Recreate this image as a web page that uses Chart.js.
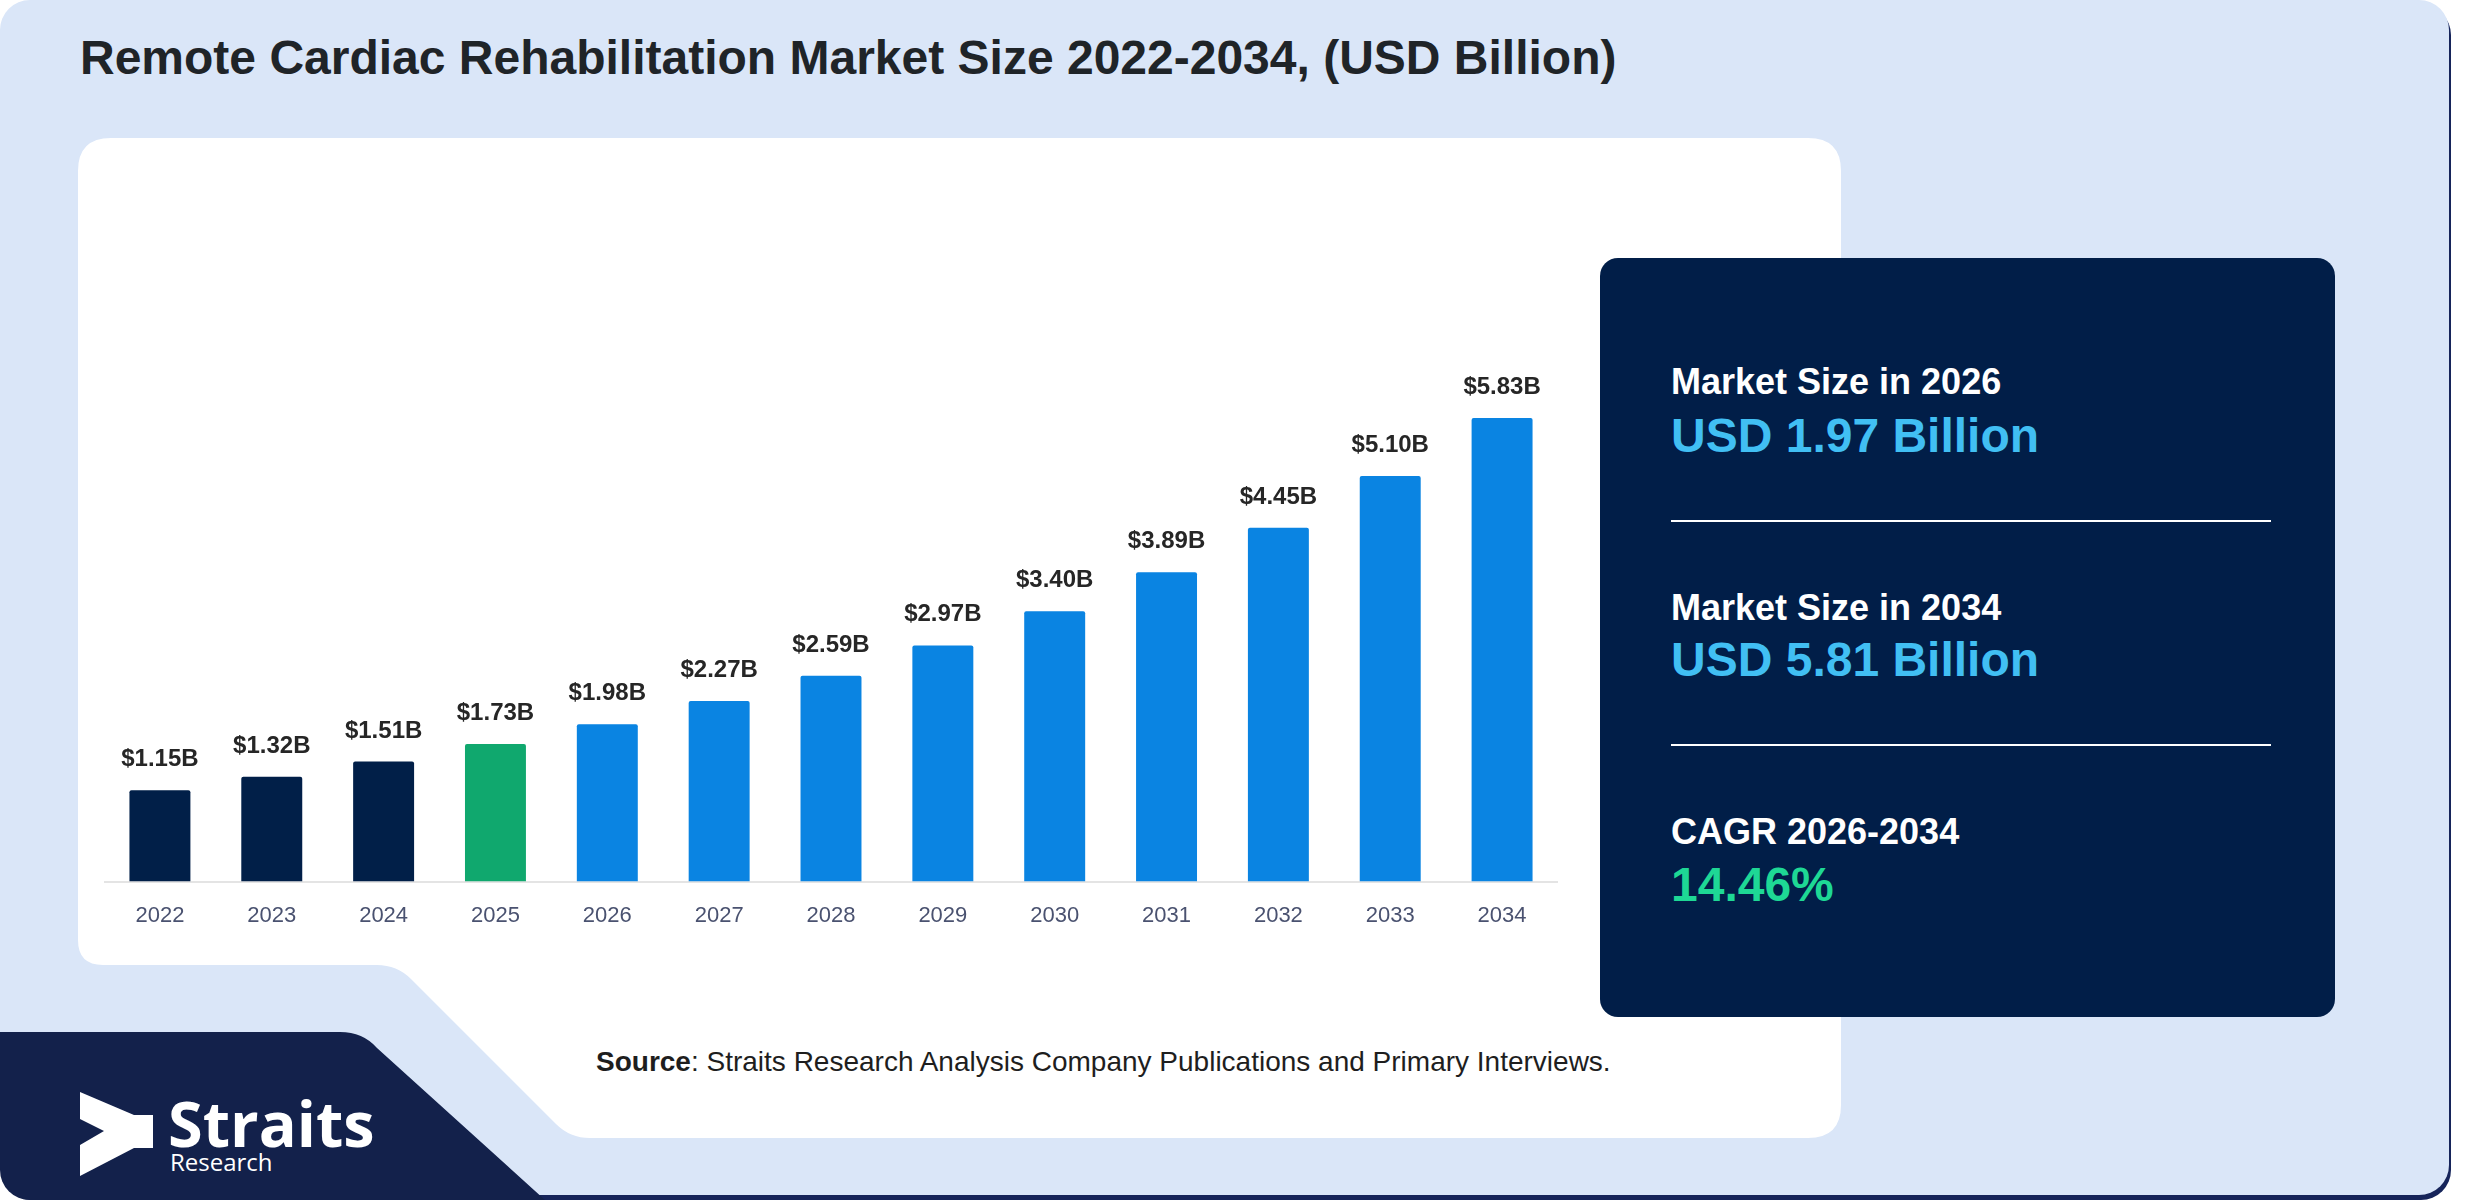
<!DOCTYPE html>
<html lang="en">
<head>
<meta charset="UTF-8">
<title>Remote Cardiac Rehabilitation Market Size 2022-2034</title>
<script src="https://cdn.jsdelivr.net/npm/chart.js"></script>
<style>
    html, body { margin: 0; padding: 0; background: #fff; }
    body { width: 2480px; height: 1200px; position: relative; overflow: hidden; font-family: "Liberation Sans", Arial, sans-serif; }
    #fundo { position: absolute; left: 0; top: 0; }
    #grafico { position: absolute; left: 104px; top: 300px; }
</style>
</head>
<body>

<svg id="fundo" width="2480" height="1200" viewBox="0 0 2480 1200">
    <defs>
        <clipPath id="moldura"><rect x="0" y="0" width="2451" height="1200" rx="30"/></clipPath>
    </defs>

    <!-- outer panel with dark bottom edge -->
    <rect x="2" y="5" width="2449" height="1195" rx="30" fill="#16245a"/>
    <rect x="0" y="0" width="2449" height="1195" rx="30" fill="#dae6f8"/>

    <!-- white card with the cut at bottom-left -->
    <path d="M 111 138 H 1808 Q 1841 138 1841 171 V 1105 Q 1841 1138 1808 1138 H 590
             Q 570 1138 556 1124 L 411 979 Q 397 965 377 965 H 103 Q 78 965 78 940 V 171 Q 78 138 111 138 Z"
          fill="#ffffff"/>

    <!-- logo block -->
    <g clip-path="url(#moldura)">
        <path d="M 0 1032 H 340 Q 363 1032 377 1048 L 545 1200 H 0 Z" fill="#13214b"/>
    </g>
    <polygon points="80,1092 134,1115 153,1115 153,1148 134,1148 80,1176 80,1145 104,1131 80,1119" fill="#ffffff"/>
    <text x="168" y="1147" font-family="'Open Sans', sans-serif" font-weight="700" font-size="63" fill="#ffffff">Straits</text>
    <text x="170" y="1171" font-family="'Open Sans', sans-serif" font-size="24" fill="#ffffff">Research</text>

    <!-- title -->
    <text x="80" y="74" font-size="48" font-weight="700" fill="#1f2428">Remote Cardiac Rehabilitation Market Size 2022-2034, (USD Billion)</text>

    <!-- stats panel -->
    <rect x="1600" y="258" width="735" height="759" rx="18" fill="#011e48"/>
    <text x="1671" y="394" font-size="36" font-weight="700" fill="#ffffff">Market Size in 2026</text>
    <text x="1671" y="452" font-size="48" font-weight="700" fill="#41bff3">USD 1.97 Billion</text>
    <line x1="1671" y1="521" x2="2271" y2="521" stroke="#ffffff" stroke-width="2"/>
    <text x="1671" y="620" font-size="36" font-weight="700" fill="#ffffff">Market Size in 2034</text>
    <text x="1671" y="676" font-size="48" font-weight="700" fill="#41bff3">USD 5.81 Billion</text>
    <line x1="1671" y1="745" x2="2271" y2="745" stroke="#ffffff" stroke-width="2"/>
    <text x="1671" y="844" font-size="36" font-weight="700" fill="#ffffff">CAGR 2026-2034</text>
    <text x="1671" y="901" font-size="48" font-weight="700" fill="#1ed895">14.46%</text>

    <!-- source -->
    <text x="596" y="1071" font-size="28" fill="#1e1e1e"><tspan font-weight="700">Source</tspan>: Straits Research Analysis Company Publications and Primary Interviews.</text>
</svg>

<canvas id="grafico" width="1454" height="660" style="width:1454px;height:660px"></canvas>

<script>
    // dados
    const anos = ['2022', '2023', '2024', '2025', '2026', '2027', '2028', '2029', '2030', '2031', '2032', '2033', '2034'];
    const valores = [1.15, 1.32, 1.51, 1.73, 1.98, 2.27, 2.59, 2.97, 3.40, 3.89, 4.45, 5.10, 5.83];

    // cores: histórico, ano base, previsão
    const corHistorico = '#011f48';
    const corBase = '#10a86e';
    const corPrevisao = '#0a84e2';
    const cores = anos.map(a => Number(a) < 2025 ? corHistorico : (a === '2025' ? corBase : corPrevisao));

    const fonte = '"Liberation Sans", Arial, sans-serif';

    const rotulosValor = {
        id: 'rotulosValor',
        afterDatasetsDraw(chart) {
            const ctx = chart.ctx;
            const meta = chart.getDatasetMeta(0);
            ctx.save();
            ctx.font = 'bold 24px ' + fonte;
            ctx.fillStyle = '#262626';
            ctx.textAlign = 'center';
            ctx.textBaseline = 'alphabetic';
            meta.data.forEach((barra, i) => {
                ctx.fillText('$' + valores[i].toFixed(2) + 'B', barra.x, barra.y - 24);
            });
            ctx.restore();
        }
    };

    const ctx = document.getElementById('grafico').getContext('2d');
    new Chart(ctx, {
        type: 'bar',
        data: {
            labels: anos,
            datasets: [{
                data: valores,
                backgroundColor: cores,
                borderWidth: 0,
                borderRadius: 2,
                borderSkipped: 'bottom',
                barPercentage: 0.545,
                categoryPercentage: 1
            }]
        },
        options: {
            responsive: false,
            maintainAspectRatio: false,
            animation: false,
            devicePixelRatio: 1,
            layout: { padding: { top: 25, bottom: 10, left: 0, right: 0 } },
            plugins: {
                legend: { display: false },
                tooltip: { enabled: false }
            },
            scales: {
                x: {
                    grid: { display: false, drawTicks: false },
                    border: { display: true, color: '#e4e4e4', width: 2 },
                    ticks: { color: '#4a5270', font: { family: fonte, size: 22 }, padding: 21 }
                },
                y: {
                    display: false,
                    min: 0,
                    max: 7
                }
            }
        },
        plugins: [rotulosValor]
    });
</script>
</body>
</html>
